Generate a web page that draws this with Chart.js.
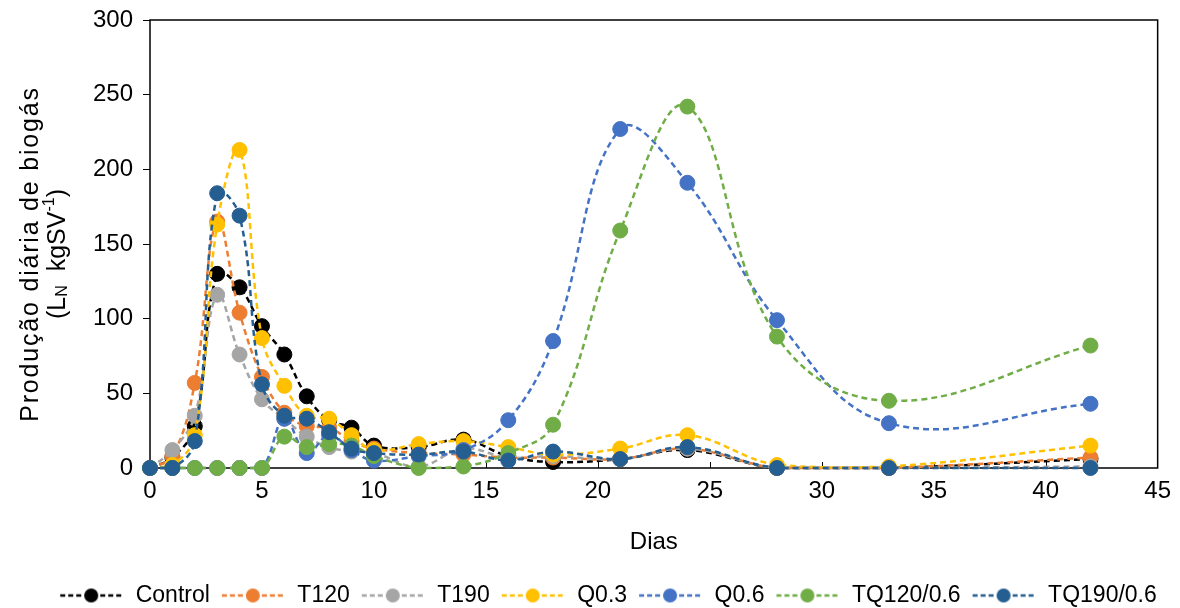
<!DOCTYPE html>
<html lang="pt">
<head>
  <meta charset="UTF-8" />
  <title>Produção diária de biogás</title>
  <script src="https://cdn.jsdelivr.net/npm/chart.js"></script>
  <style>
    html, body { margin: 0; padding: 0; background: #fff; }
    #wrap { width: 1180px; height: 608px; }
  </style>
</head>
<body>
<div id="wrap"><canvas id="biogas" width="1180" height="608"></canvas></div>

<script>
  // Sampling days
  const days = [0, 1, 2, 3, 4, 5, 6, 7, 8, 9, 10, 12, 14, 16, 18, 21, 24, 28, 33, 42];

  // Daily biogas production per treatment (LN kgSV-1)
  const control = [0, 7, 28, 130, 121, 95, 76, 48, 32, 27, 15, 14, 19, 8, 4, 6, 12, 0, 0, 6];
  const t120    = [0, 8, 57, 165, 104, 61, 37, 28, 27, 18, 13, 10, 9, 7, 7, 6, 13, 0, 0, 7];
  const t190    = [0, 12, 35, 116, 76, 46, 33, 21, 14, 11, 10, 1, 13, 7, 8, 6, 13, 0, 0, 1];
  const q03     = [0, 2, 22, 163, 213, 87, 55, 35, 33, 22, 12, 16, 18, 14, 9, 13, 22, 2, 1, 15];
  const q06     = [0, 0, 0, 0, 0, 0, 33, 10, 22, 12, 5, 8, 12, 32, 85, 227, 191, 99, 30, 43];
  const tq120   = [0, 0, 0, 0, 0, 0, 21, 14, 16, 15, 8, 0, 1, 10, 29, 159, 242, 88, 45, 82];
  const tq190   = [0, 0, 18, 184, 169, 56, 35, 33, 24, 13, 10, 9, 11, 5, 11, 6, 14, 0, 0, 0];

  const seriesNames = ['Control', 'T120', 'T190', 'Q0.3', 'Q0.6', 'TQ120/0.6', 'TQ190/0.6'];
  const seriesValues = [control, t120, t190, q03, q06, tq120, tq190];
  const seriesColors = ['#000000', '#ED7D31', '#A5A5A5', '#FFC000', '#4472C4', '#70AD47', '#255E91'];

  const xTicks = [0, 5, 10, 15, 20, 25, 30, 35, 40, 45];

  const FONT = "'Liberation Sans', Arial, sans-serif";
  Chart.defaults.font.family = FONT;
  Chart.defaults.color = '#000';

  // legend swatch: dashed line with a marker in the middle
  function legendSwatch(color) {
    const c = document.createElement('canvas');
    c.width = 70; c.height = 18;
    const g = c.getContext('2d');
    g.strokeStyle = color;
    g.lineWidth = 2.5;
    g.setLineDash([5, 3]);
    g.beginPath();
    g.moveTo(6, 9); g.lineTo(68, 9);
    g.stroke();
    g.fillStyle = color;
    g.beginPath();
    g.arc(37, 9, 7, 0, Math.PI * 2);
    g.fill();
    return c;
  }
  const swatches = seriesColors.map(legendSwatch);

  const datasets = seriesNames.map((name, i) => ({
    label: name,
    data: days.map((d, k) => ({ x: d, y: seriesValues[i][k] })),
    borderColor: seriesColors[i],
    backgroundColor: seriesColors[i],
    pointBackgroundColor: seriesColors[i],
    pointBorderColor: seriesColors[i],
    borderWidth: 2.5,
    borderDash: [6, 4],
    pointRadius: 7.5,
    pointBorderWidth: 1,
    tension: 0.4,
    fill: false,
    clip: false,
    order: seriesNames.length - 1 - i
  }));

  // plot frame, inward x ticks and the two-line y title
  const decorations = {
    id: 'decorations',
    beforeDatasetsDraw(chart) {
      const { ctx, chartArea: a, scales } = chart;
      ctx.save();
      ctx.strokeStyle = '#000';
      ctx.lineWidth = 1.5;
      ctx.strokeRect(a.left, a.top, a.right - a.left, a.bottom - a.top);
      ctx.beginPath();
      xTicks.slice(1, -1).forEach(v => {
        const px = Math.round(scales.x.getPixelForValue(v)) + 0.5;
        ctx.moveTo(px, a.bottom);
        ctx.lineTo(px, a.bottom - 6);
      });
      ctx.lineWidth = 1;
      ctx.stroke();
      ctx.restore();
    },
    afterDraw(chart) {
      const { ctx, chartArea: a } = chart;
      const cy = (a.top + a.bottom) / 2 + 10;
      ctx.save();
      ctx.fillStyle = '#000';
      ctx.textBaseline = 'middle';
      ctx.textAlign = 'center';
      ctx.translate(31, cy);
      ctx.rotate(-Math.PI / 2);
      ctx.font = '25px ' + FONT;
      ctx.letterSpacing = '1.8px';
      ctx.fillText('Produção diária de biogás', 0, 0);
      ctx.restore();

      // second line: (L_N  kgSV^-1)
      const big = '25px ' + FONT, small = '16px ' + FONT;
      const parts = [
        { t: '(L', f: big, dy: 0 },
        { t: 'N', f: small, dy: 5 },
        { t: '  kgSV', f: big, dy: 0 },
        { t: '-1', f: small, dy: -8 },
        { t: ')', f: big, dy: 0 }
      ];
      ctx.save();
      let total = 0;
      parts.forEach(p => { ctx.font = p.f; p.w = ctx.measureText(p.t).width; total += p.w; });
      ctx.translate(58, cy);
      ctx.rotate(-Math.PI / 2);
      ctx.fillStyle = '#000';
      ctx.textBaseline = 'middle';
      ctx.textAlign = 'left';
      let x = -total / 2;
      parts.forEach(p => {
        ctx.font = p.f;
        ctx.fillText(p.t, x, p.dy);
        x += p.w;
      });
      ctx.restore();
    }
  };

  new Chart(document.getElementById('biogas').getContext('2d'), {
    type: 'line',
    data: { datasets },
    options: {
      responsive: false,
      animation: false,
      layout: { padding: { top: 20, right: 13, bottom: -9, left: 44 } },
      plugins: {
        tooltip: { enabled: false },
        legend: {
          position: 'bottom',
          labels: {
            usePointStyle: true,
            pointStyleWidth: 70,
            padding: 6,
            color: '#000',
            font: { size: 23, family: FONT },
            sort: (a, b) => a.datasetIndex - b.datasetIndex,
            generateLabels(chart) {
              return Chart.defaults.plugins.legend.labels.generateLabels(chart).map(item => {
                item.pointStyle = swatches[item.datasetIndex];
                item.lineDash = [];
                return item;
              });
            }
          }
        }
      },
      scales: {
        x: {
          type: 'linear',
          min: 0,
          max: 45,
          afterBuildTicks: scale => { scale.ticks = xTicks.map(v => ({ value: v })); },
          afterFit: scale => { scale.height = 110; },
          grid: { display: false, drawOnChartArea: false, drawTicks: false },
          border: { display: false },
          ticks: { padding: 9, font: { size: 24 }, color: '#000', maxRotation: 0 },
          title: { display: true, text: 'Dias', font: { size: 24 }, color: '#000', padding: { top: 0, bottom: 21 } }
        },
        y: {
          min: 0,
          max: 300,
          ticks: { stepSize: 50, padding: 10, font: { size: 24 }, color: '#000' },
          afterFit: scale => { scale.width = 106; scale.paddingTop = 0; },
          grid: { display: true, drawOnChartArea: false, drawTicks: true, tickLength: 7, color: '#000', lineWidth: 1 },
          border: { display: false }
        }
      }
    },
    plugins: [decorations]
  });
</script>
</body>
</html>
